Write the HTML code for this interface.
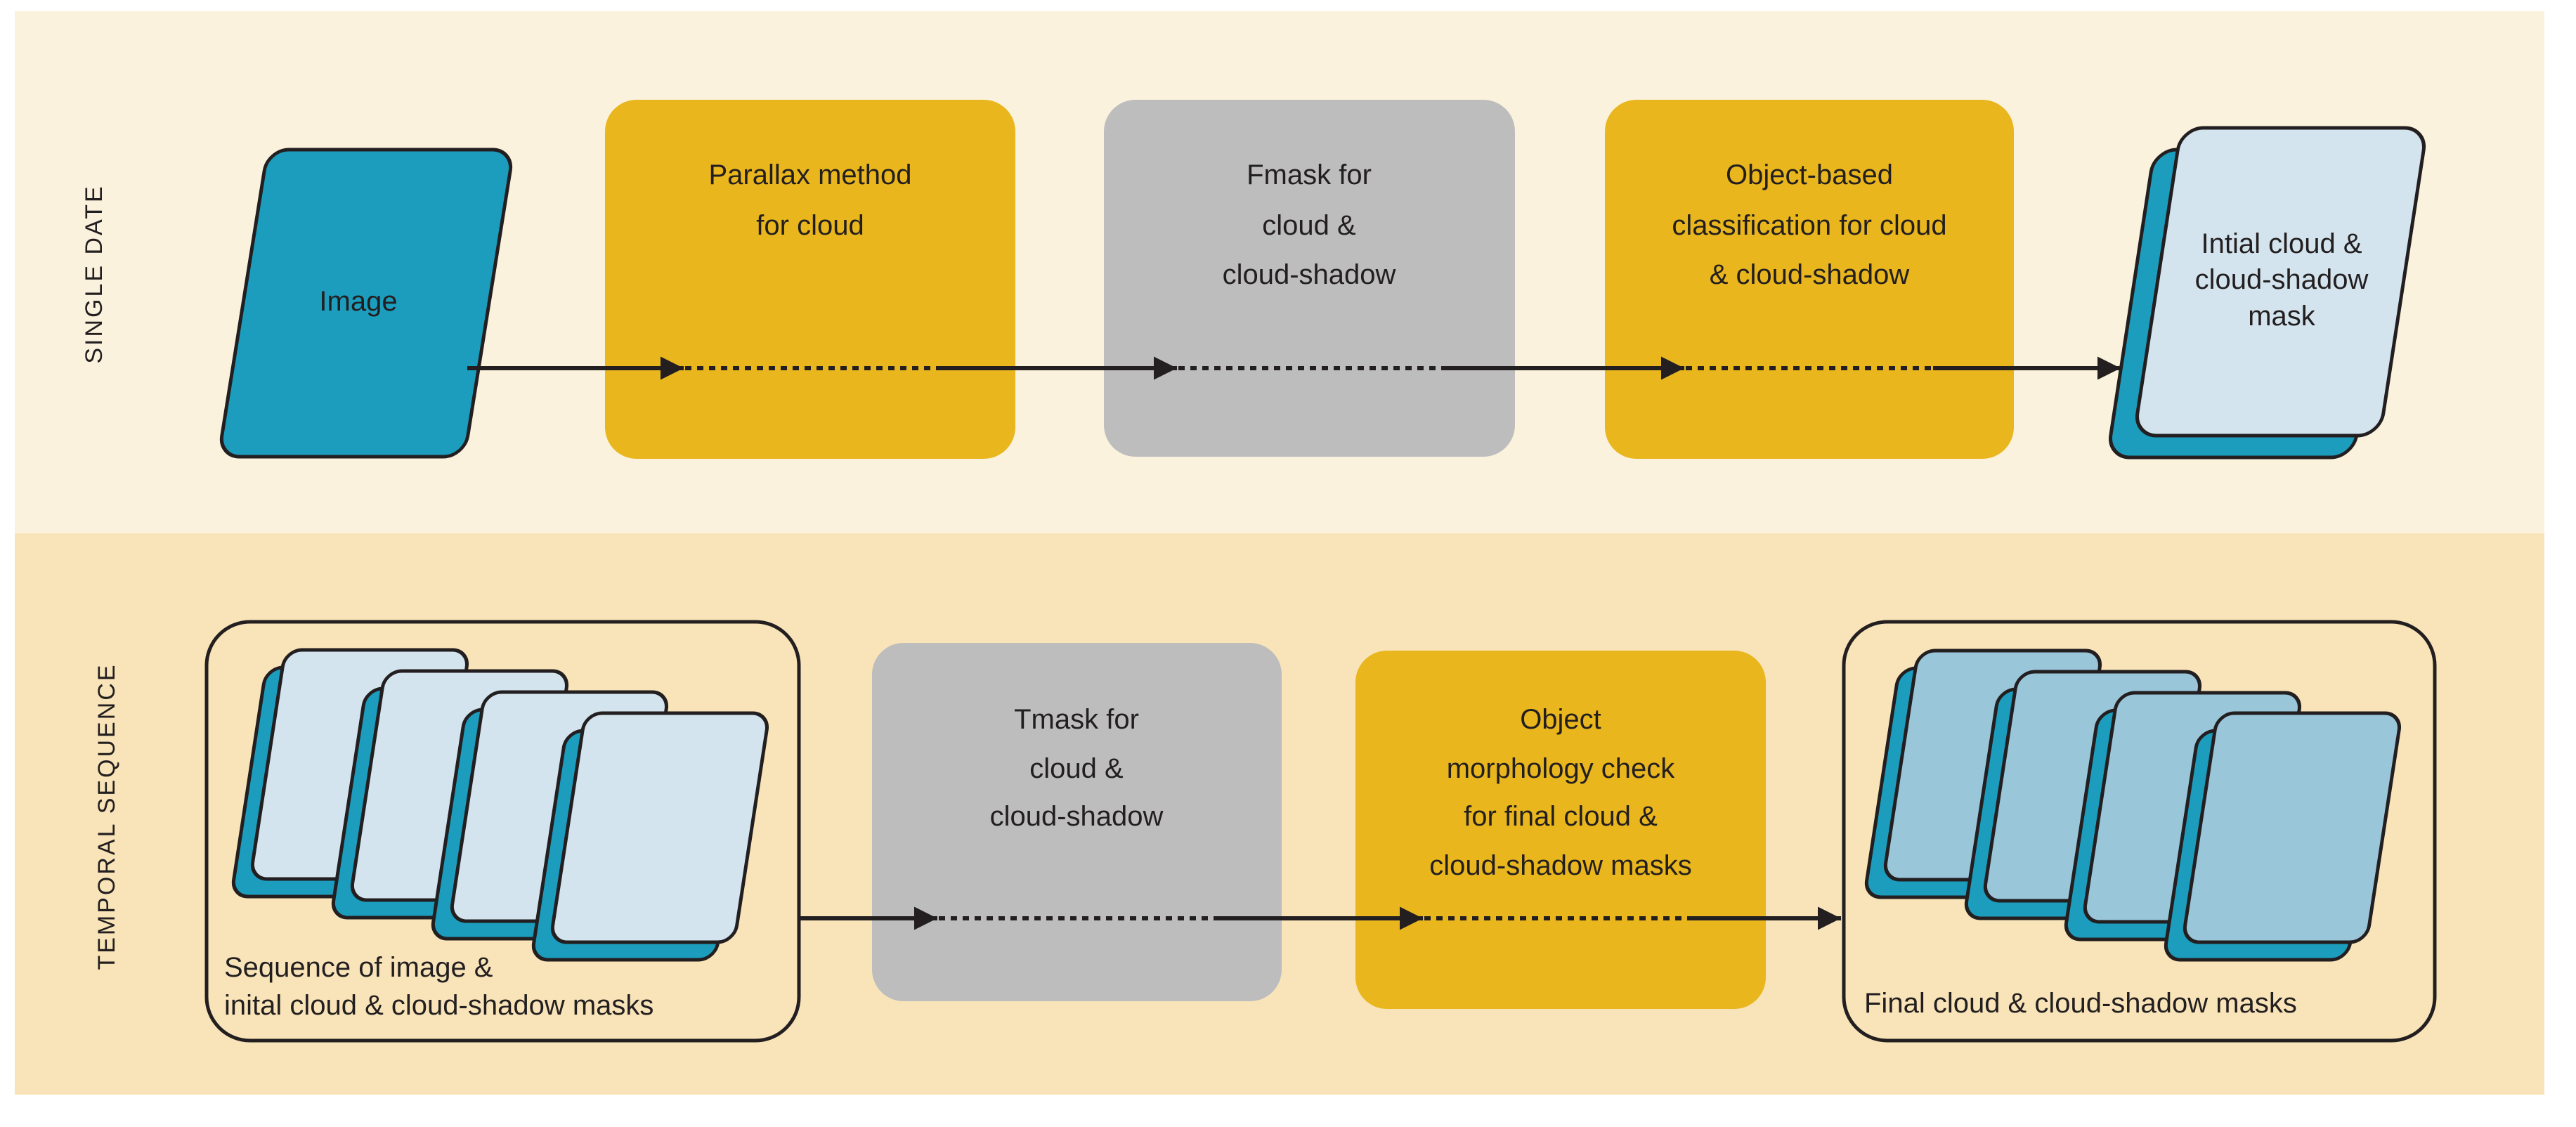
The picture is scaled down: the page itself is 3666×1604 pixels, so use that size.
<!DOCTYPE html>
<html><head><meta charset="utf-8"><style>
html,body{margin:0;padding:0;background:#fff;}
svg{display:block;}
text{font-family:"Liberation Sans",sans-serif;fill:#231F20;}
</style></head><body>
<svg width="3666" height="1604" viewBox="0 0 3666 1604" xmlns="http://www.w3.org/2000/svg">
<defs>
<marker id="ah" viewBox="0 0 10 10" refX="10" refY="5" markerWidth="5.5" markerHeight="6" markerUnits="strokeWidth" orient="auto"><path d="M0,0 L10,5 L0,10 z" fill="#231F20"/></marker>
</defs>
<rect x="21" y="16" width="3600" height="743" fill="#FAF2DC"/>
<rect x="21" y="759" width="3600" height="799" fill="#F8E4B8"/>

<text transform="translate(145,390) rotate(-90)" text-anchor="middle" font-size="34" letter-spacing="3">SINGLE DATE</text>
<text transform="translate(163,1162) rotate(-90)" text-anchor="middle" font-size="34" letter-spacing="3">TEMPORAL SEQUENCE</text>

<!-- top row boxes -->
<rect x="861" y="142" width="584" height="511" rx="45" fill="#E9B61E"/>
<rect x="1571" y="142" width="585" height="508" rx="45" fill="#BDBDBE"/>
<rect x="2284" y="142" width="582" height="511" rx="45" fill="#E9B61E"/>

<!-- image doc -->
<g transform="translate(311,650) skewX(-9.1)"><rect x="0" y="-437" width="350" height="437" rx="30" fill="#1C9DBE" stroke="#231F20" stroke-width="5"/></g>
<text x="510" y="442" text-anchor="middle" font-size="40">Image</text>

<!-- initial mask doc -->
<g transform="translate(2999,651) skewX(-8.7)"><rect x="0" y="-438" width="350" height="438" rx="32" fill="#1C9DBE" stroke="#231F20" stroke-width="5"/></g>
<g transform="translate(3037,620) skewX(-8.7)"><rect x="0" y="-438" width="350" height="438" rx="32" fill="#D3E4EE" stroke="#231F20" stroke-width="5"/></g>
<text x="3247" y="360" text-anchor="middle" font-size="40">Intial cloud &amp;</text>
<text x="3247" y="411" text-anchor="middle" font-size="40">cloud-shadow</text>
<text x="3247" y="463" text-anchor="middle" font-size="40">mask</text>

<g font-size="40" text-anchor="middle">
<text x="1153" y="262">Parallax method</text>
<text x="1153" y="334">for cloud</text>
<text x="1863" y="262">Fmask for</text>
<text x="1863" y="334">cloud &amp;</text>
<text x="1863" y="404">cloud-shadow</text>
<text x="2575" y="262">Object-based</text>
<text x="2575" y="334">classification for cloud</text>
<text x="2575" y="404">&amp; cloud-shadow</text>
</g>

<!-- top arrows -->
<g stroke="#231F20" stroke-width="6" fill="none">
<line x1="665" y1="524" x2="973" y2="524" marker-end="url(#ah)"/>
<line x1="975" y1="524" x2="1332" y2="524" stroke-dasharray="9 8"/>
<line x1="1332" y1="524" x2="1675" y2="524" marker-end="url(#ah)"/>
<line x1="1677" y1="524" x2="2057" y2="524" stroke-dasharray="9 8"/>
<line x1="2057" y1="524" x2="2397" y2="524" marker-end="url(#ah)"/>
<line x1="2399" y1="524" x2="2751" y2="524" stroke-dasharray="9 8"/>
<line x1="2751" y1="524" x2="3018" y2="524" marker-end="url(#ah)"/>
</g>

<!-- bottom row -->
<rect x="294" y="885" width="843" height="596" rx="62" fill="none" stroke="#231F20" stroke-width="5"/>
<rect x="2624" y="885" width="841" height="596" rx="62" fill="none" stroke="#231F20" stroke-width="5"/>
<rect x="1241" y="915" width="583" height="510" rx="45" fill="#BDBDBE"/>
<rect x="1929" y="926" width="584" height="510" rx="45" fill="#E9B61E"/>

<g font-size="40" text-anchor="middle">
<text x="1532" y="1037">Tmask for</text>
<text x="1532" y="1107">cloud &amp;</text>
<text x="1532" y="1175">cloud-shadow</text>
<text x="2221" y="1037">Object</text>
<text x="2221" y="1107">morphology check</text>
<text x="2221" y="1175">for final cloud &amp;</text>
<text x="2221" y="1245">cloud-shadow masks</text>
</g>

<!-- left stack -->
<g stroke="#231F20" stroke-width="5">
<g transform="translate(329,1276) skewX(-8.7)"><rect x="0" y="-326" width="262" height="326" rx="24" fill="#1C9DBE"/></g>
<g transform="translate(356,1251) skewX(-8.7)"><rect x="0" y="-326" width="262" height="326" rx="24" fill="#D3E4EE"/></g>
<g transform="translate(471,1306) skewX(-8.7)"><rect x="0" y="-326" width="262" height="326" rx="24" fill="#1C9DBE"/></g>
<g transform="translate(498,1281) skewX(-8.7)"><rect x="0" y="-326" width="262" height="326" rx="24" fill="#D3E4EE"/></g>
<g transform="translate(613,1336) skewX(-8.7)"><rect x="0" y="-326" width="262" height="326" rx="24" fill="#1C9DBE"/></g>
<g transform="translate(640,1311) skewX(-8.7)"><rect x="0" y="-326" width="262" height="326" rx="24" fill="#D3E4EE"/></g>
<g transform="translate(756,1366) skewX(-8.7)"><rect x="0" y="-326" width="262" height="326" rx="24" fill="#1C9DBE"/></g>
<g transform="translate(783,1341) skewX(-8.7)"><rect x="0" y="-326" width="262" height="326" rx="24" fill="#D3E4EE"/></g>
</g>
<!-- right stack -->
<g stroke="#231F20" stroke-width="5">
<g transform="translate(2653,1277) skewX(-8.7)"><rect x="0" y="-326" width="262" height="326" rx="24" fill="#1C9DBE"/></g>
<g transform="translate(2680,1252) skewX(-8.7)"><rect x="0" y="-326" width="262" height="326" rx="24" fill="#9AC6DA"/></g>
<g transform="translate(2795,1307) skewX(-8.7)"><rect x="0" y="-326" width="262" height="326" rx="24" fill="#1C9DBE"/></g>
<g transform="translate(2822,1282) skewX(-8.7)"><rect x="0" y="-326" width="262" height="326" rx="24" fill="#9AC6DA"/></g>
<g transform="translate(2937,1337) skewX(-8.7)"><rect x="0" y="-326" width="262" height="326" rx="24" fill="#1C9DBE"/></g>
<g transform="translate(2964,1312) skewX(-8.7)"><rect x="0" y="-326" width="262" height="326" rx="24" fill="#9AC6DA"/></g>
<g transform="translate(3079,1366) skewX(-8.7)"><rect x="0" y="-326" width="262" height="326" rx="24" fill="#1C9DBE"/></g>
<g transform="translate(3106,1341) skewX(-8.7)"><rect x="0" y="-326" width="262" height="326" rx="24" fill="#9AC6DA"/></g>
</g>

<g font-size="40">
<text x="319" y="1390">Sequence of image &amp;</text>
<text x="319" y="1444">inital cloud &amp; cloud-shadow masks</text>
<text x="2653" y="1441">Final cloud &amp; cloud-shadow masks</text>
</g>

<!-- bottom arrows -->
<g stroke="#231F20" stroke-width="6" fill="none">
<line x1="1137" y1="1307" x2="1334" y2="1307" marker-end="url(#ah)"/>
<line x1="1336" y1="1307" x2="1730" y2="1307" stroke-dasharray="9 8"/>
<line x1="1730" y1="1307" x2="2025" y2="1307" marker-end="url(#ah)"/>
<line x1="2027" y1="1307" x2="2408" y2="1307" stroke-dasharray="9 8"/>
<line x1="2408" y1="1307" x2="2620" y2="1307" marker-end="url(#ah)"/>
</g>
</svg>
</body></html>
